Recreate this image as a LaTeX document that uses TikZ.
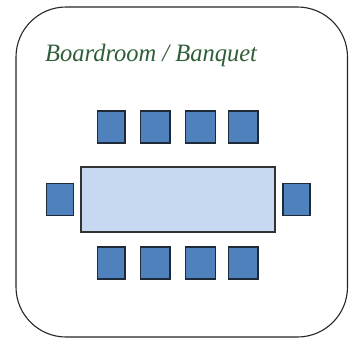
\documentclass[tikz,border=0pt]{standalone}
\usepackage{fontspec}
\setmainfont{Liberation Serif}
\definecolor{chairblue}{HTML}{4F81BD}
\definecolor{tableblue}{HTML}{C6D9F1}
\definecolor{edgedark}{HTML}{1F2A38}
\definecolor{inkgreen}{HTML}{2F5F38}
\tikzset{
  x=1pt,y=-1pt,
  room/.style={draw=black!85,line width=1.1pt,fill=white,rounded corners=50pt},
  seat/.style={draw=edgedark,line width=1.4pt,fill=chairblue,minimum width=#1,minimum height=32pt,inner sep=0pt,outer sep=0pt},
  seat/.default=28pt,
  banquet/.style={draw=black!80,line width=1.3pt,fill=tableblue,minimum width=194pt,minimum height=65pt,inner sep=0pt},
  caption/.style={text=inkgreen,inner sep=0pt,font=\itshape\fontsize{25}{25}\selectfont,xscale=0.98,anchor=base west}
}
\begin{document}
\begin{tikzpicture}
\useasboundingbox (0,0) rectangle (349,338);
\draw[room] (16,7) rectangle (347.5,337);
\node[caption] (title) at (45,61) {Boardroom / Banquet};
\node[banquet] (table) at (178,199.5) {};
\node[seat=27.5pt] (t1) at (111.2,127) {};
\node[seat=29.5pt] (t2) at (155.2,127) {};
\node[seat=29.5pt] (t3) at (200.5,127) {};
\node[seat=29.5pt] (t4) at (243.2,127) {};
\node[seat=27.5pt] (b1) at (111.2,263) {};
\node[seat=29.5pt] (b2) at (155.2,263) {};
\node[seat=29.5pt] (b3) at (200.5,263) {};
\node[seat=29.5pt] (b4) at (243.2,263) {};
\node[seat=27pt] (l) at (60,199.5) {};
\node[seat=27pt] (r) at (296.5,199.5) {};
\end{tikzpicture}
\end{document}
